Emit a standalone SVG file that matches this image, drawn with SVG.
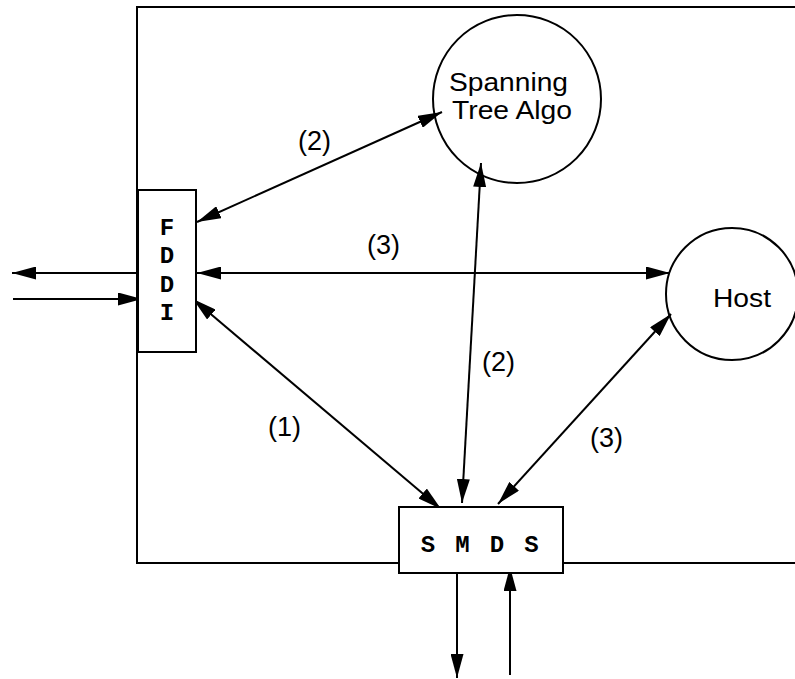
<svg xmlns="http://www.w3.org/2000/svg" width="795" height="679" viewBox="0 0 795 679">
<style>
.ln{stroke:#000;stroke-width:2;fill:none}
.box{stroke:#000;stroke-width:2;fill:#fff}
.lbl{font-family:"Liberation Sans",Arial,sans-serif;font-size:26px;fill:#000}
.num{font-size:27px}
.mono{font-family:"Liberation Mono","Courier New",monospace;font-size:24px;font-weight:bold;fill:#000;text-anchor:middle}
</style>
<defs>
<marker id="ah" viewBox="0 0 24 13" refX="24" refY="6.5" markerWidth="24" markerHeight="13" markerUnits="userSpaceOnUse" orient="auto-start-reverse">
<path d="M0,0 L24,6.5 L0,13 z" fill="#000"/>
</marker>
</defs>
<rect width="795" height="679" fill="#fff"/>
<g id="frame">
<path class="ln" d="M800,7 L137,7 L137,563 L800,563"/>
</g>
<g id="connectors">
<line class="ln" x1="197" y1="222" x2="442" y2="112" marker-start="url(#ah)" marker-end="url(#ah)"/>
<line class="ln" x1="197" y1="273" x2="670" y2="273" marker-start="url(#ah)" marker-end="url(#ah)"/>
<line class="ln" x1="193" y1="299" x2="441" y2="509" marker-start="url(#ah)" marker-end="url(#ah)"/>
<line class="ln" x1="481" y1="163" x2="462" y2="503" marker-start="url(#ah)" marker-end="url(#ah)"/>
<line class="ln" x1="671" y1="314" x2="498" y2="504" marker-start="url(#ah)" marker-end="url(#ah)"/>
<line class="ln" x1="137" y1="273" x2="12" y2="273" marker-end="url(#ah)"/>
<line class="ln" x1="13" y1="299" x2="142" y2="299" marker-end="url(#ah)"/>
<line class="ln" x1="457" y1="573" x2="457" y2="678" marker-end="url(#ah)"/>
<line class="ln" x1="510" y1="675" x2="510" y2="567" marker-end="url(#ah)"/>
</g>
<g id="fddi">
<rect class="box" x="138" y="190" width="58" height="162"/>
<text class="mono" x="167 167 167 167" y="235 263 292 320">FDDI</text>
</g>
<g id="smds">
<rect class="box" x="399" y="507" width="164" height="66"/>
<text class="mono" x="428 462.5 497 531.5" y="552">SMDS</text>
</g>
<g id="spanning">
<circle class="ln" cx="517" cy="99" r="84"/>
<text class="lbl" x="449" y="91" textLength="119" lengthAdjust="spacingAndGlyphs">Spanning</text>
<text class="lbl" x="452" y="119" textLength="120" lengthAdjust="spacingAndGlyphs">Tree Algo</text>
</g>
<g id="host">
<circle class="ln" cx="732" cy="294" r="66"/>
<text class="lbl" x="713" y="307" textLength="58" lengthAdjust="spacingAndGlyphs">Host</text>
</g>
<g id="labels">
<text class="lbl num" x="298" y="150">(2)</text>
<text class="lbl num" x="367" y="254">(3)</text>
<text class="lbl num" x="482" y="371">(2)</text>
<text class="lbl num" x="268" y="436">(1)</text>
<text class="lbl num" x="590" y="447">(3)</text>
</g>
</svg>
